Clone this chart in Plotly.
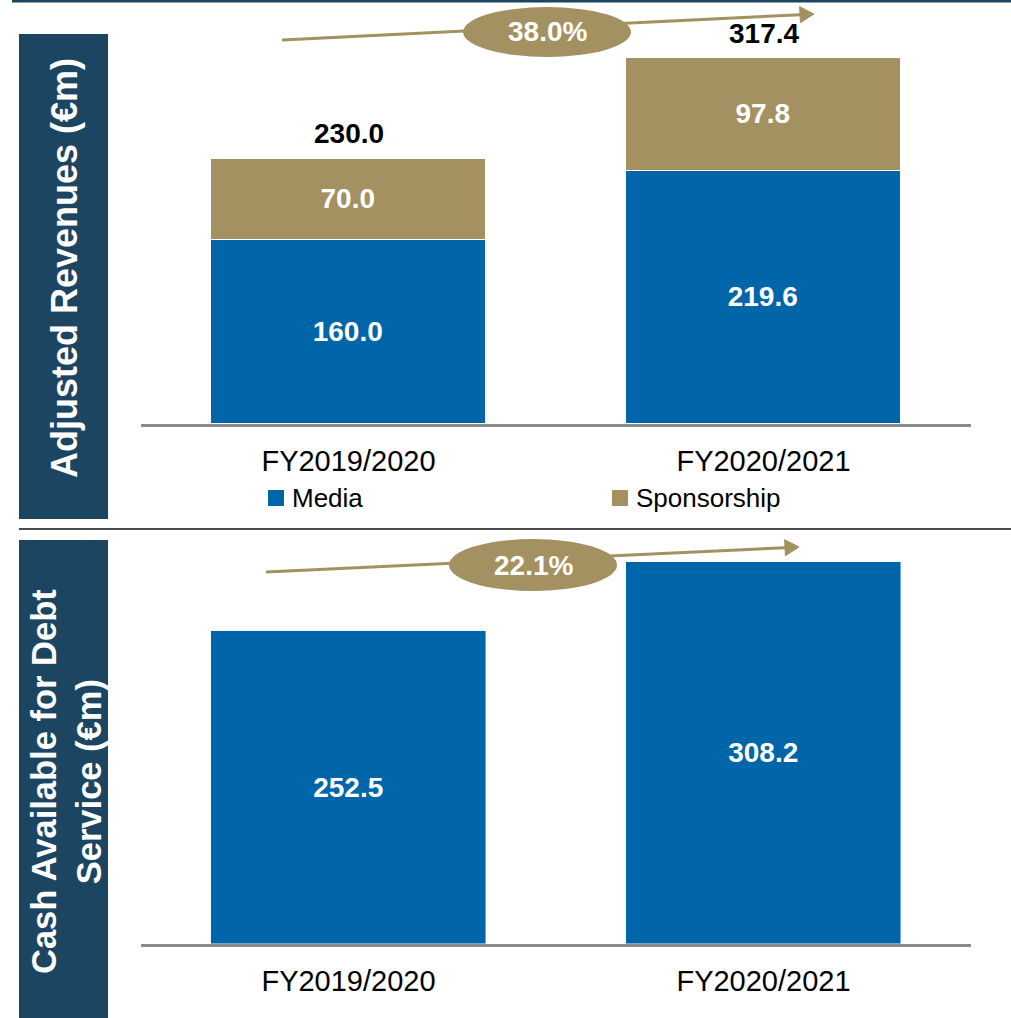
import numpy as np
import plotly.graph_objects as go

# ---------------- data ----------------
categories = ["FY2019/2020", "FY2020/2021"]
media = [160.0, 219.6]
sponsorship = [70.0, 97.8]
totals = [230.0, 317.4]
cash_available = [252.5, 308.2]
revenue_growth = "38.0%"
cash_growth = "22.1%"
series_names = ["Media", "Sponsorship"]

# ---------------- style ----------------
W, H = 1011, 1018
BLUE = "#0065A9"
GOLD = "#A39161"
NAVY = "#1C4561"
FONT = "Liberation Sans, Arial, sans-serif"


def px(x):
    return x / W


def py(y):
    return 1 - y / H


fig = go.Figure()

# top panel: stacked bars
fig.add_trace(go.Bar(
    x=categories, y=media, name=series_names[0], marker=dict(color=BLUE, line=dict(color="white", width=1.5)),
    width=0.663, texttemplate="%{y:.1f}", textposition="inside", insidetextanchor="middle",
    textangle=0, textfont=dict(family=FONT, size=28, color="white", weight="bold"),
    xaxis="x", yaxis="y", hoverinfo="skip"))
fig.add_trace(go.Bar(
    x=categories, y=sponsorship, name=series_names[1], marker=dict(color=GOLD, line=dict(color="white", width=1.5)),
    width=0.663, texttemplate="%{y:.1f}", textposition="inside", insidetextanchor="middle",
    textangle=0, textfont=dict(family=FONT, size=28, color="white", weight="bold"),
    xaxis="x", yaxis="y", hoverinfo="skip"))

# bottom panel
fig.add_trace(go.Bar(
    x=categories, y=cash_available, name="Cash", marker=dict(color=BLUE),
    width=0.663, texttemplate="%{y:.1f}", textposition="inside", insidetextanchor="middle",
    textangle=0, textfont=dict(family=FONT, size=28, color="white", weight="bold"),
    xaxis="x2", yaxis="y2", hoverinfo="skip"))

top_base, top_top, top_scale = 424, 34, 1.153
bot_base, bot_top, bot_scale = 944, 540, 1.238

axis_common = dict(
    showgrid=False, zeroline=False, showline=True, linecolor="#8A8A8A", linewidth=2.5,
    ticks="", tickfont=dict(family=FONT, size=29, color="black"), ticklabelstandoff=9,
    range=[-0.5, 1.5], fixedrange=True)

fig.update_layout(
    width=W, height=H, margin=dict(l=0, r=0, t=0, b=0, autoexpand=False),
    paper_bgcolor="white", plot_bgcolor="white", barmode="stack", bargap=0,
    xaxis=dict(domain=[px(141), px(971)], anchor="y", **axis_common),
    yaxis=dict(domain=[py(top_base), py(top_top)], range=[0, (top_base - top_top) / top_scale],
               visible=False, fixedrange=True),
    xaxis2=dict(domain=[px(141), px(971)], anchor="y2", **axis_common),
    yaxis2=dict(domain=[py(bot_base), py(bot_top)], range=[0, (bot_base - bot_top) / bot_scale],
                visible=False, fixedrange=True),
    showlegend=False,
)

shapes = []
annotations = []

# total labels above stacked bars
for c, t in zip(categories, totals):
    annotations.append(dict(xref="x", yref="y", x=c, y=t, text=f"{t:.1f}", showarrow=False,
                            xanchor="center", yanchor="middle", yshift=25,
                            font=dict(family=FONT, size=28, color="black", weight="bold")))

# legend (manual, to match the square markers)
for name, color, x_sq in zip(series_names, [BLUE, GOLD], [268, 612]):
    shapes.append(dict(type="rect", xref="paper", yref="paper", x0=px(x_sq), x1=px(x_sq + 16),
                       y0=py(506), y1=py(490), fillcolor=color, line=dict(width=0)))
    annotations.append(dict(xref="paper", yref="paper", x=px(x_sq + 22), y=py(498), text=name,
                            showarrow=False, xanchor="left", yanchor="middle",
                            font=dict(family=FONT, size=26, color="black")))

# frame lines
shapes.append(dict(type="line", xref="paper", yref="paper", x0=px(12), x1=1, y0=py(1), y1=py(1),
                   line=dict(color=NAVY, width=3)))
shapes.append(dict(type="line", xref="paper", yref="paper", x0=px(19), x1=1, y0=py(529), y1=py(529),
                   line=dict(color="#4A4A4A", width=2)))

# side label boxes
for (y0, y1) in [(34, 519), (540, 1018)]:
    shapes.append(dict(type="rect", xref="paper", yref="paper", x0=px(19), x1=px(108),
                       y0=py(y1), y1=py(y0), fillcolor=NAVY, line=dict(width=0), layer="below"))

annotations.append(dict(xref="paper", yref="paper", x=px(64), y=py(268), text="Adjusted Revenues (€m)",
                        textangle=-90, showarrow=False, xanchor="center", yanchor="middle",
                        font=dict(family=FONT, size=36, color="white", weight="bold")))
annotations.append(dict(xref="paper", yref="paper", x=px(66), y=py(782),
                        text="Cash Available for Debt<br>Service (€m)", textangle=-90, showarrow=False,
                        xanchor="center", yanchor="middle",
                        font=dict(family=FONT, size=34.5, color="white", weight="bold")))


def growth_arrow(x0, y0, x1, y1, cx, cy, rx, ry, label):
    dx, dy = x1 - x0, y1 - y0
    L = np.hypot(dx, dy)
    ux, uy = dx / L, dy / L
    nx, ny = -uy, ux
    hl, hw = 14, 8
    bx, by = x1 - ux * hl, y1 - uy * hl
    shapes.append(dict(type="line", xref="paper", yref="paper", x0=px(x0), y0=py(y0),
                       x1=px(bx), y1=py(by), line=dict(color=GOLD, width=3)))
    path = (f"M{px(x1)},{py(y1)} L{px(bx + nx * hw)},{py(by + ny * hw)} "
            f"L{px(bx - nx * hw)},{py(by - ny * hw)} Z")
    shapes.append(dict(type="path", xref="paper", yref="paper", path=path,
                       fillcolor=GOLD, line=dict(color=GOLD, width=1)))
    shapes.append(dict(type="circle", xref="paper", yref="paper", x0=px(cx - rx), x1=px(cx + rx),
                       y0=py(cy + ry), y1=py(cy - ry), fillcolor=GOLD, line=dict(width=0)))
    annotations.append(dict(xref="paper", yref="paper", x=px(cx), y=py(cy), text=label,
                            showarrow=False, xanchor="center", yanchor="middle",
                            font=dict(family=FONT, size=28, color="white", weight="bold")))


growth_arrow(282, 40, 814, 14, 547, 32, 84, 25, revenue_growth)
growth_arrow(266, 572, 799, 547, 533, 565, 84, 26, cash_growth)

fig.update_layout(shapes=shapes, annotations=annotations)

fig.write_html("out.html")
